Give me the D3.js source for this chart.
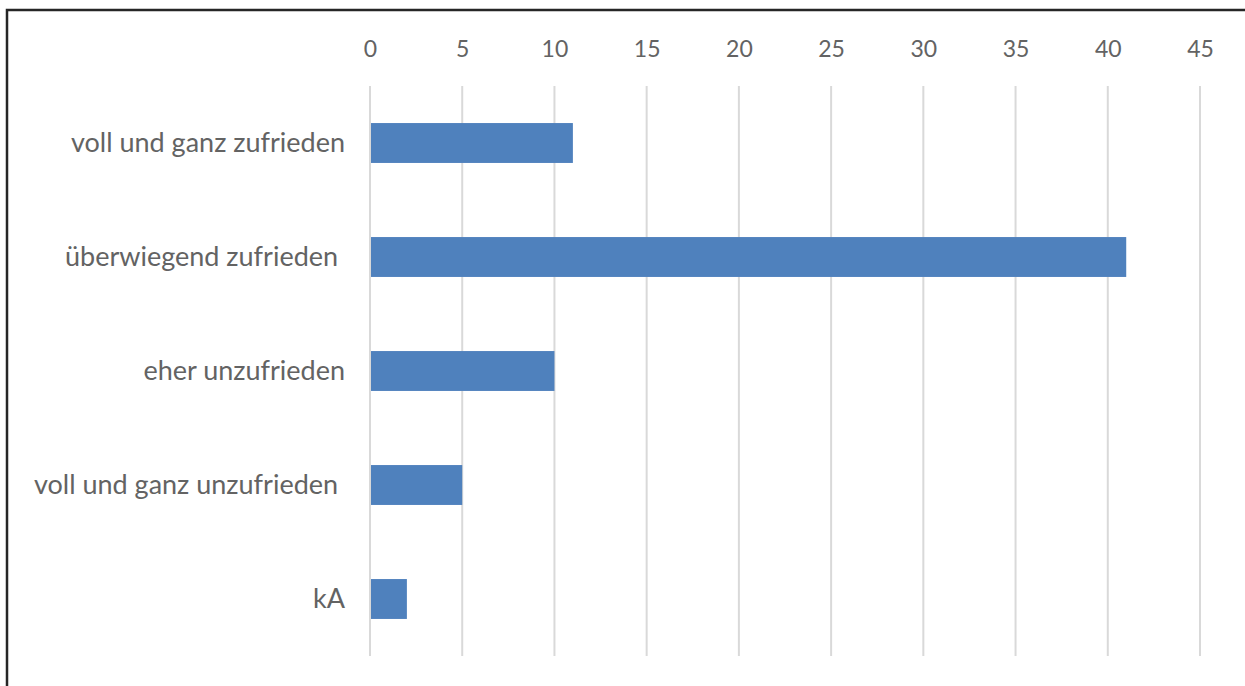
<!DOCTYPE html>
<html>
<head>
<meta charset="utf-8">
<script src="https://cdn.jsdelivr.net/npm/d3@7/dist/d3.min.js"></script>
<style>
  html, body { margin: 0; padding: 0; background: #fff; }
  svg { display: block; }
  text { font-family: Lato, "Open Sans", sans-serif; fill: #636363; white-space: pre; }
</style>
</head>
<body>
<svg id="chart" width="1245" height="686"></svg>
<script>
// Zufriedenheit – Anzahl der Antworten je Kategorie
const categories = [
  "voll und ganz zufrieden",
  "überwiegend zufrieden ",
  "eher unzufrieden",
  "voll und ganz unzufrieden ",
  "kA"
];
const counts = [11, 41, 10, 5, 2];
const tickValues = [0, 5, 10, 15, 20, 25, 30, 35, 40, 45];

const svg = d3.select("#chart");

// outer frame (only top and left edges fall inside the view)
svg.append("rect")
  .attr("x", 7).attr("y", 10)
  .attr("width", 1260).attr("height", 700)
  .attr("fill", "none")
  .attr("stroke", "#262626")
  .attr("stroke-width", 2.5);

const x = d3.scaleLinear().domain([0, 45]).range([370, 1200]);
const y = d3.scaleBand().domain(categories).range([86, 656]).paddingInner(0.65).paddingOuter(0.325);

// vertical gridlines
svg.append("g")
  .selectAll("line")
  .data(tickValues)
  .join("line")
  .attr("x1", d => x(d)).attr("x2", d => x(d))
  .attr("y1", 86).attr("y2", 656)
  .attr("stroke", "#d9d9d9")
  .attr("stroke-width", 2);

// value axis along the top
const xAxis = d3.axisTop(x).tickValues(tickValues).tickSize(0).tickPadding(0);
const gx = svg.append("g").attr("transform", "translate(0,57)").call(xAxis);
gx.select(".domain").remove();
gx.selectAll("text")
  .attr("font-size", 23)
  .style("font-family", "Lato, 'Open Sans', sans-serif")
  .style("fill", "#636363");

// bars
svg.append("g")
  .selectAll("rect")
  .data(categories)
  .join("rect")
  .attr("x", x(0) + 1)
  .attr("y", d => y(d))
  .attr("width", (d, i) => x(counts[i]) - x(0) - 1)
  .attr("height", y.bandwidth())
  .attr("fill", "#4f81bd");

// category axis
const yAxis = d3.axisLeft(y).tickSize(0).tickPadding(0);
const gy = svg.append("g").attr("transform", "translate(345,0)").call(yAxis);
gy.select(".domain").remove();
gy.selectAll("text")
  .attr("font-size", 27)
  .style("font-family", "Lato, 'Open Sans', sans-serif")
  .style("fill", "#636363")
  .style("white-space", "pre");
</script>
</body>
</html>
